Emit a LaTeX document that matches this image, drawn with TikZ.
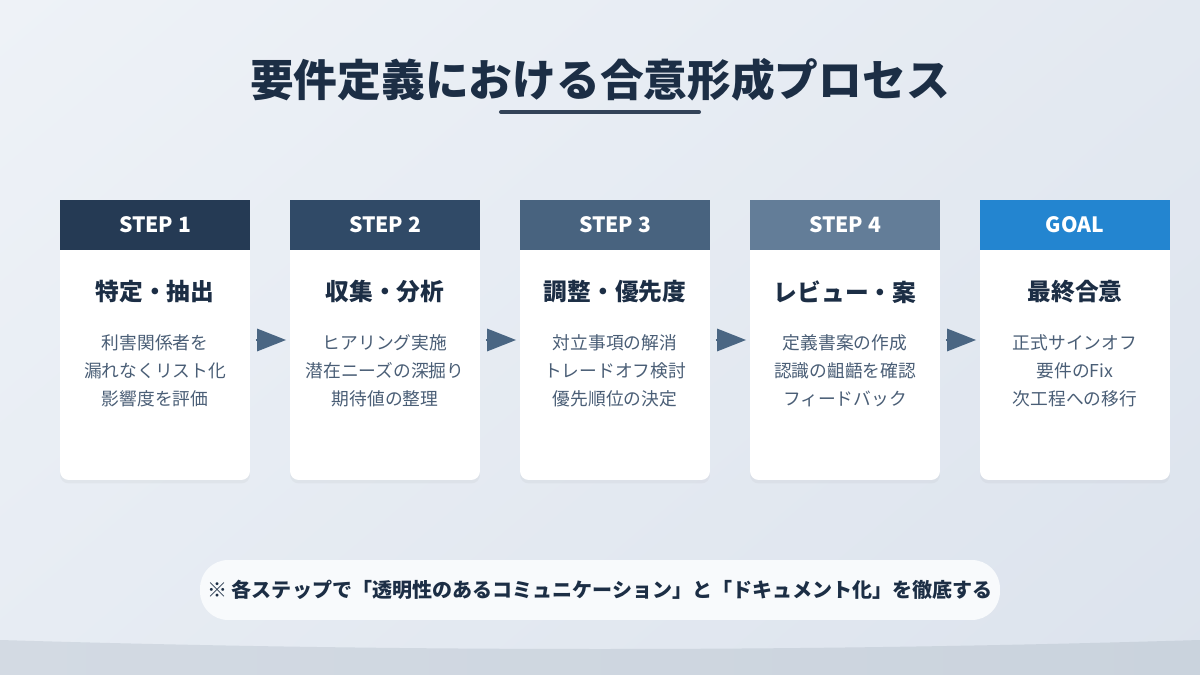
\documentclass[tikz,border=0pt]{standalone}
\usepackage{fontspec}
\setmainfont{Noto Sans CJK JP}
\usetikzlibrary{positioning,calc,arrows.meta,shadows,shadings}
\definecolor{bgtop}{HTML}{EEF2F7}
\definecolor{bgbot}{HTML}{DCE3ED}
\definecolor{bandl}{HTML}{D3DAE3}
\definecolor{bandr}{HTML}{CAD3DD}
\definecolor{navy}{HTML}{1C2E45}
\definecolor{slate}{HTML}{4A5E76}
\definecolor{headone}{HTML}{253A54}
\definecolor{headtwo}{HTML}{304A67}
\definecolor{headthree}{HTML}{48637F}
\definecolor{headfour}{HTML}{637D98}
\definecolor{headgoal}{HTML}{2385D0}
\definecolor{flowblue}{HTML}{4A6683}
\definecolor{notefill}{HTML}{F8FAFC}

\begin{document}
\begin{tikzpicture}[x=0.02cm, y=-0.02cm, font=\rmfamily]
\tikzset{
  card/.style={fill=white, rounded corners=5pt, minimum width=3.8cm, minimum height=5.6cm, inner sep=0pt,
    drop shadow={opacity=0.07, shadow xshift=0pt, shadow yshift=-2pt}},
  head/.style={minimum width=3.8cm, minimum height=1cm, inner sep=0pt, text=white, font=\bfseries\fontsize{12}{13}\selectfont},
  cardtitle/.style={text=navy, font=\bfseries\fontsize{13.5}{15}\selectfont},
  cardbody/.style={text=slate, align=center, font=\fontsize{10.1}{15.9}\selectfont},
  flow/.style={draw=flowblue, line width=1.7pt, -{Triangle[length=0.58cm, width=0.44cm]}, shorten <=3pt, shorten >=2pt}
}
% background
\shade[upper left=bgtop, lower right=bgbot, upper right=bgbot!60!bgtop, lower left=bgtop!60!bgbot] (0,0) rectangle (1200,675);
\shade[left color=bandl, right color=bandr] (0,640) .. controls (400,652) and (800,652) .. (1200,640) -- (1200,675) -- (0,675) -- cycle;
\useasboundingbox (0,0) rectangle (1200,675);

% title
\node[text=navy, font=\bfseries\fontsize{24.9}{28}\selectfont] (title) at (600,80) {要件定義における合意形成プロセス};
\draw[navy!90!white, line width=2.3pt, line cap=round] (501,112) -- (699,112);

% cards
\node[card] (c1) at (155,340) {};
\node[card] (c2) at (385,340) {};
\node[card] (c3) at (615,340) {};
\node[card] (c4) at (845,340) {};
\node[card] (c5) at (1075,340) {};

\node[head, fill=headone] (h1) at (155,225) {STEP 1};
\node[head, fill=headtwo] (h2) at (385,225) {STEP 2};
\node[head, fill=headthree] (h3) at (615,225) {STEP 3};
\node[head, fill=headfour] (h4) at (845,225) {STEP 4};
\node[head, fill=headgoal] (h5) at (1075,225) {GOAL};

\node[cardtitle] (t1) at (155,292) {特定・抽出};
\node[cardtitle] (t2) at (385,292) {収集・分析};
\node[cardtitle] (t3) at (615,292) {調整・優先度};
\node[cardtitle] (t4) at (845,292) {レビュー・案};
\node[cardtitle] (t5) at (1075,292) {最終合意};

\node[cardbody] (b1) at (155,371) {利害関係者を\\漏れなくリスト化\\影響度を評価};
\node[cardbody] (b2) at (385,371) {ヒアリング実施\\潜在ニーズの深掘り\\期待値の整理};
\node[cardbody] (b3) at (615,371) {対立事項の解消\\トレードオフ検討\\優先順位の決定};
\node[cardbody] (b4) at (845,371) {定義書案の作成\\認識の齟齬を確認\\フィードバック};
\node[cardbody] (b5) at (1075,371) {正式サインオフ\\要件のFix\\次工程への移行};

% arrows
\draw[flow] (c1) -- (c2);
\draw[flow] (c2) -- (c3);
\draw[flow] (c3) -- (c4);
\draw[flow] (c4) -- (c5);

% note
\node[fill=notefill, rounded corners=16pt, minimum width=16cm, minimum height=1.2cm, inner sep=0pt] (note) at (600,590) {};
\node[text=navy, font=\bfseries\fontsize{11.4}{13}\selectfont] (notetext) at (note) {※ 各ステップで「透明性のあるコミュニケーション」と「ドキュメント化」を徹底する};
\end{tikzpicture}
\end{document}
